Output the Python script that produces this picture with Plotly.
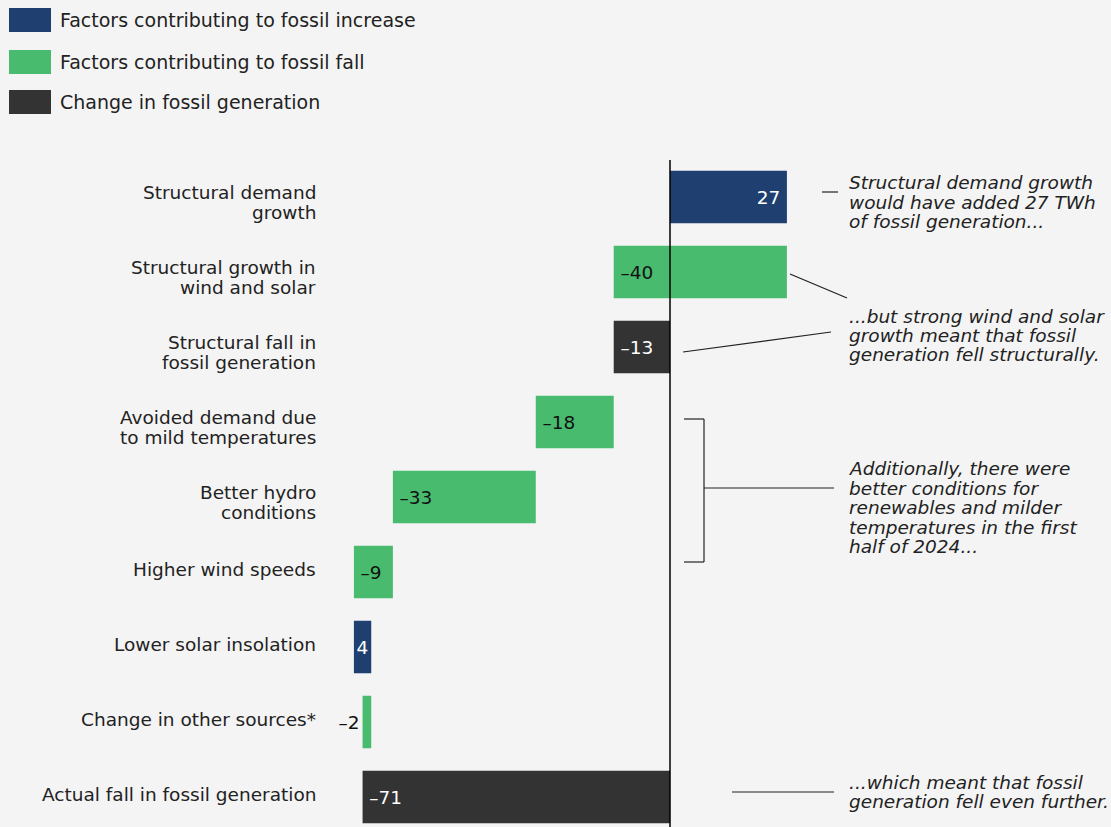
import plotly.graph_objects as go

# ---------------- data ----------------
categories = [
    "Structural demand\ngrowth",
    "Structural growth in\nwind and solar",
    "Structural fall in\nfossil generation",
    "Avoided demand due\nto mild temperatures",
    "Better hydro\nconditions",
    "Higher wind speeds",
    "Lower solar insolation",
    "Change in other sources*",
    "Actual fall in fossil generation",
]
values = [27, -40, -13, -18, -33, -9, 4, -2, -71]
kinds = ["increase", "fall", "change", "fall", "fall", "fall", "increase", "fall", "change"]

legend_labels = {
    "increase": "Factors contributing to fossil increase",
    "fall": "Factors contributing to fossil fall",
    "change": "Change in fossil generation",
}
colors = {"increase": "#1e3f6f", "fall": "#48bb6e", "change": "#333333"}
text_colors = {"increase": "white", "fall": "#111111", "change": "white"}

notes = [
    (["Structural demand growth", "would have added 27 TWh", "of fossil generation..."], [182, 201, 220]),
    (["...but strong wind and solar", "growth meant that fossil", "generation fell structurally."], [315, 334, 353]),
    (["Additionally, there were", "better conditions for", "renewables and milder",
      "temperatures in the first", "half of 2024..."], [468, 487, 506, 526, 545]),
    (["...which meant that fossil", "generation fell even further."], [781, 800]),
]

# waterfall bases
bases = []
running = 0
for v, k in zip(values, kinds):
    if k == "change":
        bases.append(0)
    else:
        bases.append(running)
        running += v

# ---------------- geometry helpers ----------------
W, H = 1111, 827
L, T = 330, 160
PX_PER_UNIT = 4.33
ZERO_PX = 670
ROW0, ROW = 197, 75

def vx(px):
    return (px - ZERO_PX) / PX_PER_UNIT

def vy(py):
    return (py - ROW0) / ROW

def paper_x(px):
    return (px - L) / (W - L)

def paper_y(py):
    return (H - py) / (H - T)

FONT = "DejaVu Sans, sans-serif"
FS = 18.5
TXT = "#222222"

def fmt(v):
    if abs(v) < 3:
        return ("\u2013" + str(-v)) if v < 0 else str(v)
    if v >= 0:
        return str(v) + ("\u2009" if v > 9 else "")
    return "\u2009\u2013" + str(-v)

ys = list(range(len(values)))
fig = go.Figure()
fig.add_trace(go.Bar(
    y=ys, x=values, base=bases, orientation="h", width=0.7,
    marker=dict(color=[colors[k] for k in kinds], line=dict(width=0)),
    text=[fmt(v) for v in values],
    textposition=["outside" if abs(v) < 3 else "inside" for v in values],
    insidetextanchor="end",
    constraintext="none",
    textangle=0,
    textfont=dict(family=FONT, size=FS, color=[text_colors[k] for k in kinds]),
    outsidetextfont=dict(family=FONT, size=FS, color="#111111"),
    cliponaxis=False,
    hoverinfo="skip",
    showlegend=False,
))

annotations = []
# category labels (right aligned)
for i, cat in enumerate(categories):
    lines = cat.split("\n")
    if len(lines) == 1:
        offs = [-3]
    else:
        offs = [-5, 15]
    for line, o in zip(lines, offs):
        annotations.append(dict(
            x=paper_x(318), y=paper_y(ROW0 + ROW * i + o), xref="paper", yref="paper",
            text=line, showarrow=False, xanchor="right", yanchor="middle",
            font=dict(family=FONT, size=FS, color=TXT),
        ))

# right-hand notes
for lines, pys in notes:
    for line, p in zip(lines, pys):
        annotations.append(dict(
            x=paper_x(847), y=paper_y(p + 1), xref="paper", yref="paper",
            text="<i>" + line + "</i>", showarrow=False, xanchor="left", yanchor="middle",
            font=dict(family=FONT, size=FS, color=TXT),
        ))

# legend text
legend_py = [20, 62, 102]
for k, p in zip(["increase", "fall", "change"], legend_py):
    annotations.append(dict(
        x=paper_x(58), y=paper_y(p), xref="paper", yref="paper",
        text=legend_labels[k], showarrow=False, xanchor="left", yanchor="middle",
        font=dict(family=FONT, size=19, color=TXT),
    ))

shapes = []
# legend swatches
for k, p in zip(["increase", "fall", "change"], legend_py):
    shapes.append(dict(
        type="rect", xref="paper", yref="paper",
        x0=paper_x(9), x1=paper_x(51), y0=paper_y(p - 12), y1=paper_y(p + 12),
        fillcolor=colors[k], line=dict(width=0),
    ))

# zero line on top
shapes.append(dict(type="line", xref="x", yref="paper", x0=0, x1=0, y0=0, y1=1,
                   line=dict(color="black", width=1.5), layer="above"))

LINE = dict(color="#222222", width=1.2)
def seg(x0, y0, x1, y1):
    shapes.append(dict(type="line", xref="x", yref="y",
                       x0=vx(x0), y0=vy(y0), x1=vx(x1), y1=vy(y1), line=LINE))

seg(822, 192, 838, 192)
seg(790, 274, 847, 298)
seg(683, 352, 831, 332)
# bracket
seg(684, 419, 704, 419)
seg(704, 419, 704, 562)
seg(684, 562, 704, 562)
seg(704, 488, 834, 488)
seg(732, 792, 834, 792)

fig.update_layout(
    width=W, height=H,
    margin=dict(l=L, r=0, t=T, b=0),
    paper_bgcolor="#f4f4f4", plot_bgcolor="#f4f4f4",
    xaxis=dict(range=[vx(L), vx(W)], showgrid=False, zeroline=False,
               showticklabels=False, ticks="", showline=False, fixedrange=True),
    yaxis=dict(range=[vy(H), vy(T)], showgrid=False, zeroline=False,
               showticklabels=False, ticks="", showline=False, fixedrange=True),
    bargap=0.3,
    annotations=annotations,
    shapes=shapes,
    hovermode=False,
)

fig.write_html("out.html", config={"displayModeBar": False},
               post_script="document.body.style.margin='0';document.body.style.background='#f4f4f4';")
